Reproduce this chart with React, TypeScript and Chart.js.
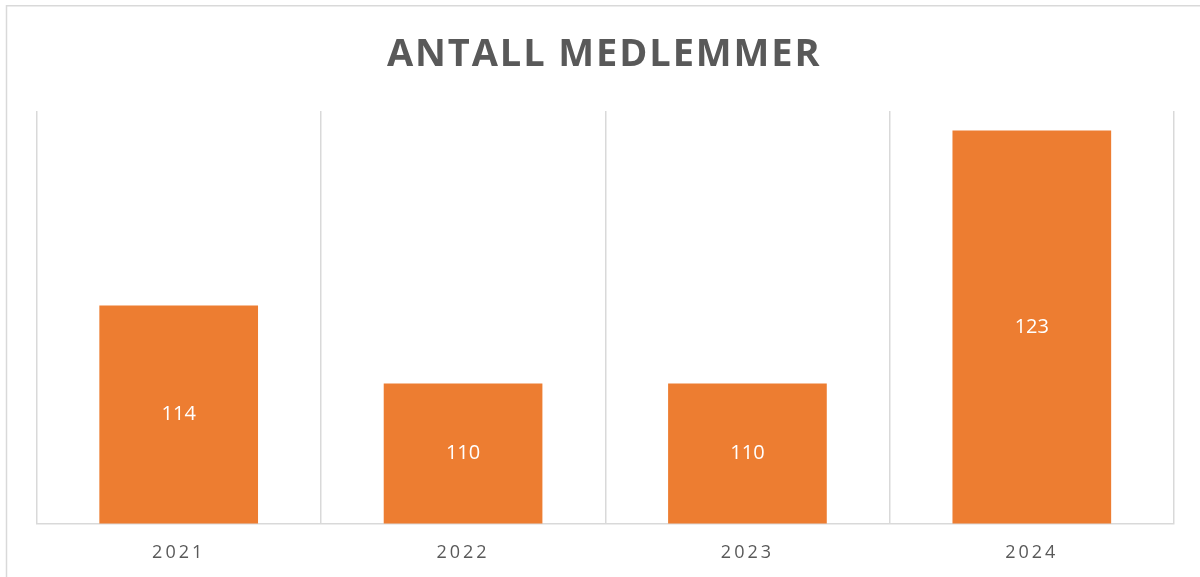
import React, { useEffect, useRef } from "react";
import { Chart, registerables } from "chart.js";

Chart.register(...registerables);

const categories: string[] = ["2021", "2022", "2023", "2024"];
const members: number[] = [114, 110, 110, 123];
const chartTitle = "ANTALL MEDLEMMER";
const axisMin = 102.8;
const axisMax = 124;

const BAR_COLOR = "#ED7D31";
const TEXT_COLOR = "#595959";
const LINE_COLOR = "#D9D9D9";
const FONT = "'Open Sans', 'DejaVu Sans', sans-serif";

const excelStyle = {
  id: "excelStyle",
  beforeDraw(chart: any) {
    const ctx = chart.ctx as CanvasRenderingContext2D;
    ctx.save();
    ctx.fillStyle = "#ffffff";
    ctx.fillRect(0, 0, chart.width, chart.height);
    ctx.strokeStyle = LINE_COLOR;
    ctx.lineWidth = 1.5;
    ctx.beginPath();
    ctx.moveTo(6.5, chart.height + 10);
    ctx.lineTo(6.5, 5.75);
    ctx.lineTo(chart.width + 10, 5.75);
    ctx.stroke();
    ctx.restore();
    (ctx as any).letterSpacing = "3px";
  },
  beforeDatasetsDraw(chart: any) {
    (chart.ctx as any).letterSpacing = "0px";
  },
  afterDraw(chart: any) {
    const ctx = chart.ctx as CanvasRenderingContext2D;
    const area = chart.chartArea;
    const xScale = chart.scales.x;
    const yScale = chart.scales.y;

    // data labels, centred in each bar
    ctx.save();
    (ctx as any).letterSpacing = "0px";
    ctx.fillStyle = "#ffffff";
    ctx.font = `20px ${FONT}`;
    ctx.textAlign = "center";
    ctx.textBaseline = "middle";
    members.forEach((v, i) => {
      const x = xScale.getPixelForValue(i);
      const top = yScale.getPixelForValue(v);
      const base = yScale.getPixelForValue(axisMin);
      ctx.fillText(String(v), x, (top + base) / 2);
    });
    ctx.restore();

    // title
    ctx.save();
    const spacing = 1.9;
    (ctx as any).letterSpacing = `${spacing}px`;
    ctx.fillStyle = TEXT_COLOR;
    ctx.font = `bold 38px ${FONT}`;
    ctx.textAlign = "center";
    ctx.textBaseline = "alphabetic";
    ctx.fillText(chartTitle, (area.left + area.right) / 2 + spacing / 2 - 2, 66);
    ctx.restore();
    (ctx as any).letterSpacing = "0px";
  },
};

export default function App() {
  const canvasRef = useRef<HTMLCanvasElement | null>(null);

  useEffect(() => {
    if (!canvasRef.current) return;
    const chart = new Chart(canvasRef.current, {
      type: "bar",
      data: {
        labels: categories,
        datasets: [
          {
            label: chartTitle,
            data: members,
            backgroundColor: BAR_COLOR,
            borderWidth: 0,
            categoryPercentage: 1,
            barPercentage: 0.558,
          },
        ],
      },
      options: {
        responsive: false,
        animation: false,
        layout: { padding: { top: 111, left: 36.5, right: 26, bottom: 0 } },
        plugins: {
          legend: { display: false },
          title: { display: false },
          tooltip: { enabled: false },
        },
        scales: {
          x: {
            grid: { color: LINE_COLOR, lineWidth: 1.5, offset: true, drawTicks: false },
            border: { color: LINE_COLOR, width: 1.5 },
            ticks: {
              color: TEXT_COLOR,
              font: { family: FONT, size: 18 },
              padding: 19,
            },
            afterFit: (scale: any) => {
              scale.height = 53.5;
            },
          },
          y: {
            display: false,
            min: axisMin,
            max: axisMax,
          },
        },
      },
      plugins: [excelStyle],
    });
    return () => chart.destroy();
  }, []);

  return (
    <div style={{ position: "fixed", left: 0, top: 0, width: 1200, height: 577, background: "#fff" }}>
      <canvas ref={canvasRef} width={1200} height={577} style={{ display: "block", width: 1200, height: 577 }} />
    </div>
  );
}
